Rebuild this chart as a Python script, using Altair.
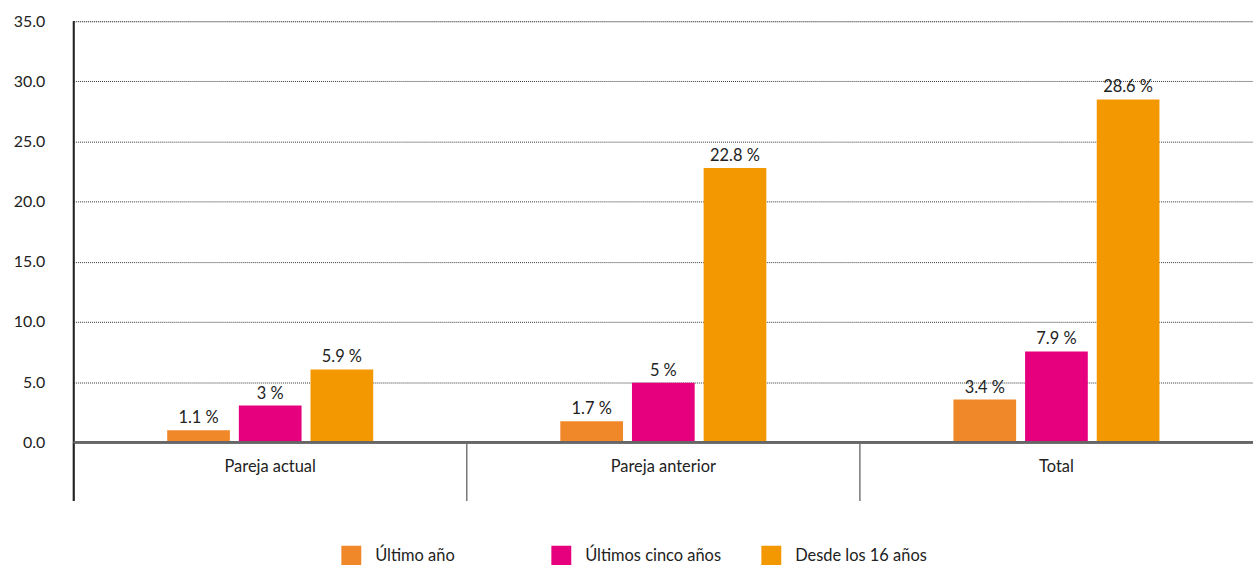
import altair as alt
import pandas as pd

categories = ["Pareja actual", "Pareja anterior", "Total"]
series = ["Último año", "Últimos cinco años", "Desde los 16 años"]
colors = ["#F0882A", "#E6007E", "#F39800"]

# bar heights as drawn in the picture, per series (one value per category)
ultimo_ano = [1.0, 1.75, 3.55]
ultimos_cinco = [3.05, 4.95, 7.55]
desde_16 = [6.05, 22.8, 28.5]

# printed labels above bars
lbl_ultimo_ano = ["1.1 %", "1.7 %", "3.4 %"]
lbl_ultimos_cinco = ["3 %", "5 %", "7.9 %"]
lbl_desde_16 = ["5.9 %", "22.8 %", "28.6 %"]

y_ticks = [0, 5, 10, 15, 20, 25, 30, 35]

rows = []
for s, vals, lbls in zip(series, [ultimo_ano, ultimos_cinco, desde_16],
                         [lbl_ultimo_ano, lbl_ultimos_cinco, lbl_desde_16]):
    for c, v, l in zip(categories, vals, lbls):
        rows.append({"cat": c, "serie": s, "valor": v, "etiqueta": l})
df = pd.DataFrame(rows)
sep_df = pd.DataFrame({"cat": categories})

FONT = "Lato"
FS = 16.5
W = 1185
H = 423

x_enc = alt.X("cat:N", sort=categories, title=None,
              scale=alt.Scale(paddingInner=0, paddingOuter=0),
              axis=alt.Axis(labelAngle=0, labelFontSize=FS, labelColor="#222222",
                            labelFont=FONT, ticks=False, labelPadding=16,
                            domainColor="#666666", domainWidth=2, grid=False))
off_scale = alt.Scale(paddingInner=0.125, paddingOuter=0.0625, range=[89.5, 305.5])
xoff = alt.XOffset("serie:N", sort=series, scale=off_scale)
y_enc = alt.Y("valor:Q", title=None,
              scale=alt.Scale(domain=[0, 35], nice=False),
              axis=alt.Axis(values=y_ticks, format=".1f", labelFontSize=16,
                            labelFont=FONT, labelColor="#222222", ticks=False,
                            labelPadding=29, grid=True, gridColor="#333333",
                            gridDash=[1, 1], gridWidth=1, domain=False))

bars = alt.Chart(df).mark_bar().encode(
    x=x_enc,
    xOffset=xoff,
    y=y_enc,
    color=alt.Color("serie:N", sort=series,
                    scale=alt.Scale(domain=series, range=colors),
                    legend=alt.Legend(title=None, orient="none", legendX=269, legendY=527,
                                      columns=3, direction="horizontal",
                                      symbolType="square", symbolSize=400,
                                      symbolStrokeWidth=0, labelFontSize=FS,
                                      labelFont=FONT, labelColor="#222222",
                                      labelOffset=14, columnPadding=40,
                                      gridAlign="all", labelLimit=300)),
)

text = alt.Chart(df).mark_text(baseline="bottom", dy=-4, fontSize=FS, font=FONT,
                                color="#222222").encode(
    x=alt.X("cat:N", sort=categories),
    xOffset=alt.XOffset("serie:N", sort=series),
    y=alt.Y("valor:Q"),
    text="etiqueta:N",
)

seps = alt.Chart(sep_df).mark_rule(color="#777777", strokeWidth=1.5).encode(
    x=alt.X("cat:N", sort=categories, bandPosition=0),
    y=alt.value(H),
    y2=alt.value(482),
)

yaxis_line = alt.Chart(sep_df).mark_rule(color="#222222", strokeWidth=1.5).encode(
    x=alt.value(0), y=alt.value(0), y2=alt.value(482),
)

zero_line = alt.Chart(sep_df).mark_rule(color="#666666", strokeWidth=2).encode(
    x=alt.value(0), x2=alt.value(W), y=alt.value(H),
)

chart = alt.layer(bars, text, seps, yaxis_line, zero_line).properties(
    width=W, height=H,
    autosize=alt.AutoSizeParams(type="none"),
    padding={"left": 74, "top": 20, "right": 0, "bottom": 122},
).configure_view(stroke=None).configure(background="white")

chart.save("out.html", embed_options={"renderer": "svg", "actions": False})
